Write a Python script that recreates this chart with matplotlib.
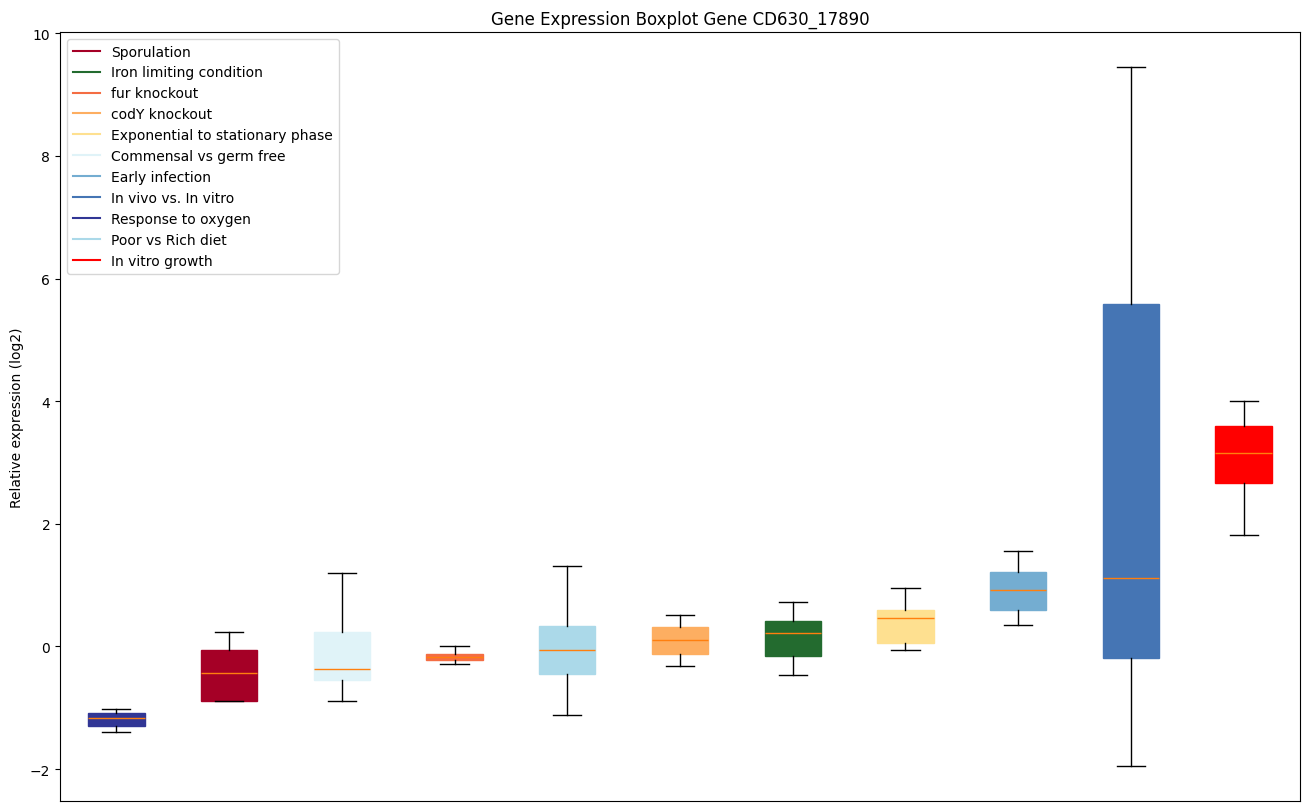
import matplotlib
matplotlib.use("Agg")
import matplotlib.pyplot as plt

# legend order
legend_labels = ["Sporulation", "Iron limiting condition", "fur knockout", "codY knockout",
                 "Exponential to stationary phase", "Commensal vs germ free", "Early infection",
                 "In vivo vs. In vitro", "Response to oxygen", "Poor vs Rich diet", "In vitro growth"]
legend_colors = ["#a50026", "#236b2f", "#f46d43", "#fdae61", "#fee090", "#e0f3f8",
                 "#74add1", "#4575b4", "#313695", "#abd9e9", "#ff0000"]

# boxes, left to right
box_labels = ["Response to oxygen", "Sporulation", "Commensal vs germ free", "fur knockout",
              "Poor vs Rich diet", "codY knockout", "Iron limiting condition",
              "Exponential to stationary phase", "Early infection", "In vivo vs. In vitro",
              "In vitro growth"]
whislo = [-1.40, -0.89, -0.89, -0.28, -1.12, -0.32, -0.47, -0.05, 0.35, -1.95, 1.82]
q1     = [-1.29, -0.89, -0.55, -0.22, -0.45, -0.12, -0.15, 0.06, 0.59, -0.18, 2.66]
med    = [-1.17, -0.44, -0.36, -0.17, -0.05, 0.10, 0.22, 0.47, 0.92, 1.12, 3.15]
q3     = [-1.09, -0.05, 0.23, -0.12, 0.34, 0.31, 0.41, 0.59, 1.22, 5.59, 3.60]
whishi = [-1.02, 0.23, 1.20, 0.01, 1.32, 0.52, 0.72, 0.96, 1.56, 9.45, 4.01]

color_of = dict(zip(legend_labels, legend_colors))

stats = []
for i, name in enumerate(box_labels):
    stats.append({"label": name, "whislo": whislo[i], "q1": q1[i], "med": med[i],
                  "q3": q3[i], "whishi": whishi[i], "fliers": []})

fig = plt.figure(figsize=(13.09, 8.12), dpi=100)
ax = fig.add_axes([60/1309, 10/812, 1240/1309, 769/812])

bp = ax.bxp(stats, patch_artist=True, showfliers=False)
for patch, name in zip(bp["boxes"], box_labels):
    patch.set_facecolor(color_of[name])
    patch.set_edgecolor(color_of[name])

for name, c in zip(legend_labels, legend_colors):
    ax.plot([], [], color=c, label=name)

ax.legend(loc="upper left")
ax.set_xticks([])
ax.set_ylabel("Relative expression (log2)")
ax.set_title("Gene Expression Boxplot Gene CD630_17890")

fig.savefig("out.png", dpi=100)
